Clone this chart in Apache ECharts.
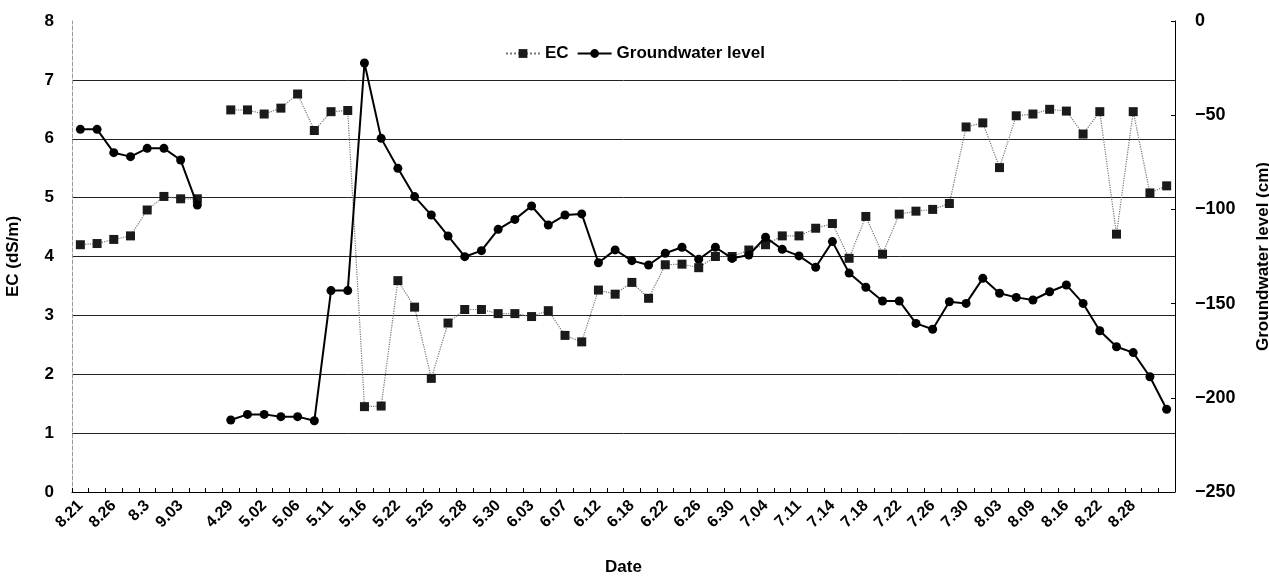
<!DOCTYPE html>
<html>
<head>
<meta charset="utf-8">
<script src="https://cdn.jsdelivr.net/npm/echarts@6/dist/echarts.min.js"></script>
<style>
html,body{margin:0;padding:0;background:#fff;}
#chart{width:1269px;height:581px;}
</style>
</head>
<body>
<div id="chart"></div>
<script>
// Tick labels (one per sampling slot; '' = unlabeled slot)
const dateLabels = [
  '8.21','','8.26','','8.3','','9.03','','',
  '4.29','','5.02','','5.06','','5.11','','5.16','','5.22','','5.25','','5.28','','5.30','',
  '6.03','','6.07','','6.12','','6.18','','6.22','','6.26','','6.30','','7.04','','7.11','',
  '7.14','','7.18','','7.22','','7.26','','7.30','','8.03','','8.09','','8.16','','8.22','','8.28','',''
];
// EC (dS/m)
const ecValues = [
  4.20, 4.22, 4.29, 4.35, 4.79, 5.02, 4.98, 4.98, null,
  6.49, 6.49, 6.42, 6.52, 6.76, 6.14, 6.46, 6.48,
  1.45, 1.46, 3.59, 3.14, 1.93, 2.87, 3.10, 3.10, 3.03, 3.03, 2.98, 3.08, 2.66, 2.55,
  3.43, 3.36, 3.56, 3.29, 3.86, 3.87, 3.81, 4.00, 4.00, 4.11, 4.20, 4.35, 4.35, 4.48, 4.56,
  3.97, 4.68, 4.04, 4.72, 4.77, 4.80, 4.90, 6.20, 6.27, 5.51, 6.39, 6.42, 6.50, 6.47,
  6.08, 6.46, 4.38, 6.46, 5.08, 5.20
];
// Groundwater level (cm)
const gwValues = [
  -57.5, -57.5, -69.9, -72.0, -67.6, -67.6, -73.8, -97.7, null,
  -211.8, -208.8, -208.8, -210.0, -210.0, -212.2, -143.1, -143.1,
  -22.3, -62.3, -78.2, -93.2, -103.0, -114.1, -125.1, -121.9, -110.6, -105.3, -98.2, -108.3,
  -103.0, -102.4, -128.3, -121.5, -127.2, -129.5, -123.3, -120.1, -126.5, -120.1, -126.0,
  -124.2, -114.8, -121.2, -124.7, -130.7, -117.1, -133.8, -141.3, -148.6, -148.6, -160.5,
  -163.6, -149.0, -149.9, -136.6, -144.5, -146.7, -148.1, -143.7, -140.1, -149.9, -164.4,
  -172.9, -176.0, -188.8, -206.1
];
const categories = dateLabels.map((_, i) => String(i));

const FONT = 'Liberation Sans';
const chart = echarts.init(document.getElementById('chart'), null, {renderer: 'canvas'});
chart.setOption({
  animation: false,
  backgroundColor: '#ffffff',
  textStyle: {fontFamily: FONT, color: '#000'},
  grid: {left: 72, right: 94, top: 21, bottom: 89, containLabel: false, outerBoundsMode: 'none'},
  legend: {
    left: 500, top: 40,
    itemWidth: 34, itemHeight: 11, itemGap: 8,
    textStyle: {fontFamily: FONT, fontSize: 17, fontWeight: 'bold', color: '#000'},
    data: ['EC', 'Groundwater level']
  },
  xAxis: {
    type: 'category',
    data: categories,
    boundaryGap: true,
    name: 'Date',
    nameLocation: 'middle',
    nameGap: 67,
    nameTextStyle: {fontFamily: FONT, fontSize: 17, fontWeight: 'bold', color: '#000'},
    axisLine: {show: true, lineStyle: {color: '#000', width: 1}},
    axisTick: {show: true, inside: true, length: 4, interval: 0, lineStyle: {color: '#000'}},
    axisLabel: {
      interval: 0, rotate: 45, margin: 11,
      fontFamily: FONT, fontSize: 16, fontWeight: 'bold', color: '#000',
      formatter: (v, i) => dateLabels[i]
    },
    splitLine: {show: false}
  },
  yAxis: [
    {
      type: 'value', min: 0, max: 8, interval: 1,
      name: 'EC (dS/m)', nameLocation: 'middle', nameGap: 50, nameRotate: 90,
      nameTextStyle: {fontFamily: FONT, fontSize: 17, fontWeight: 'bold', color: '#000'},
      axisLine: {show: true, lineStyle: {color: '#999', width: 1, type: 'dashed'}},
      axisTick: {show: false},
      axisLabel: {fontFamily: FONT, fontSize: 17, fontWeight: 'bold', color: '#000', margin: 18},
      splitLine: {show: true, showMaxLine: false, lineStyle: {color: '#222', width: 1}}
    },
    {
      type: 'value', min: -250, max: 0, interval: 50,
      name: 'Groundwater level (cm)', nameLocation: 'middle', nameGap: 80, nameRotate: 90,
      nameTextStyle: {fontFamily: FONT, fontSize: 17, fontWeight: 'bold', color: '#000'},
      axisLine: {show: true, lineStyle: {color: '#000', width: 1}},
      axisTick: {show: true, inside: true, length: 4, lineStyle: {color: '#000'}},
      axisLabel: {fontFamily: FONT, fontSize: 18, fontWeight: 'bold', color: '#000', margin: 20,
        formatter: v => v < 0 ? '\u2212' + Math.abs(v) : String(v)},
      splitLine: {show: false}
    }
  ],
  series: [
    {
      name: 'EC', type: 'line', yAxisIndex: 0, data: ecValues,
      connectNulls: false,
      symbol: 'rect', symbolSize: 9,
      itemStyle: {color: '#1a1a1a'},
      lineStyle: {color: '#777', width: 1.2, type: 'dotted'},
      z: 3
    },
    {
      name: 'Groundwater level', type: 'line', yAxisIndex: 1, data: gwValues,
      connectNulls: false,
      symbol: 'circle', symbolSize: 9,
      itemStyle: {color: '#000'},
      lineStyle: {color: '#000', width: 2},
      z: 4
    }
  ]
});
</script>
</body>
</html>
